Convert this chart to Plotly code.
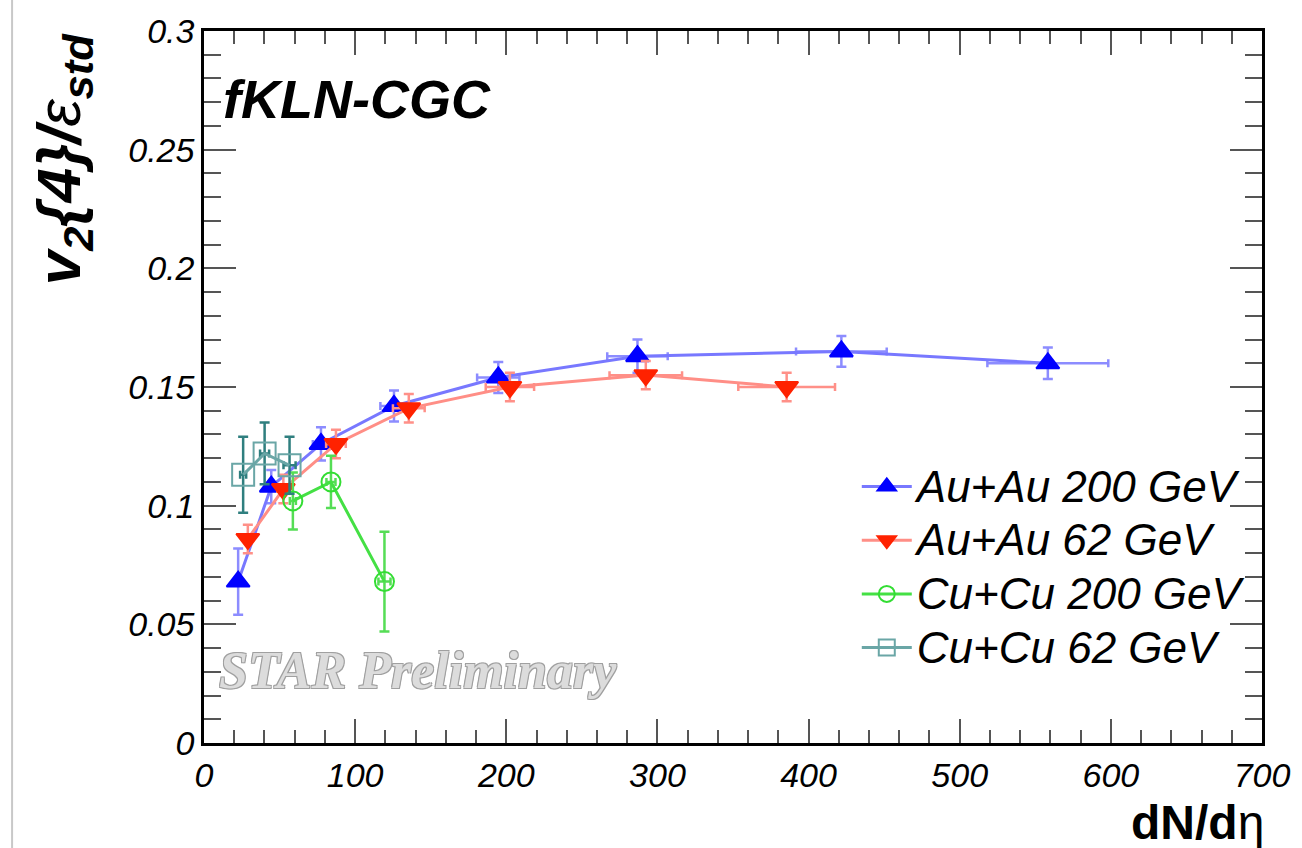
import plotly.graph_objects as go

# dN/deta, v2{4}/eps_std and their uncertainties for each system
au200_x = [22.6, 44.5, 77.4, 125.7, 194.7, 286.8, 421.7, 558.3]
au200_y = [0.068, 0.108, 0.126, 0.142, 0.154, 0.163, 0.165, 0.160]
au200_ex = [1.6, 3.1, 5.4, 9.0, 14.0, 20.0, 30.0, 40.0]
au200_ey = [0.014, 0.007, 0.007, 0.0065, 0.0065, 0.007, 0.0065, 0.0066]

au62_x = [29.0, 52.5, 87.3, 135.5, 202.4, 292.3, 385.5]
au62_y = [0.086, 0.107, 0.126, 0.141, 0.150, 0.155, 0.150]
au62_ex = [2.2, 4.0, 6.5, 10.5, 16.0, 24.0, 32.0]
au62_ey = [0.006, 0.006, 0.006, 0.006, 0.006, 0.006, 0.006]

cu200_x = [58.8, 84.0, 119.4]
cu200_y = [0.102, 0.110, 0.068]
cu200_ex = [2.0, 3.0, 4.0]
cu200_ey = [0.012, 0.011, 0.021]

cu62_x = [25.9, 40.1, 56.6]
cu62_y = [0.113, 0.122, 0.117]
cu62_ex = [2.0, 3.0, 4.0]
cu62_ey = [0.016, 0.013, 0.012]

names = ["Au+Au 200 GeV", "Au+Au 62 GeV", "Cu+Cu 200 GeV", "Cu+Cu 62 GeV"]

FONT = "Liberation Sans, Arial, sans-serif"
LEGEND_TEXT_PX = 44

fig = go.Figure()


def add_series(x, y, ex, ey, name, line_col, err_col, symbol, mcolor, mline, size):
    fig.add_trace(go.Scatter(
        x=x, y=y, mode="lines+markers",
        name=f'<span style="font-size:{LEGEND_TEXT_PX}px">{name}</span>',
        line=dict(color=line_col, width=3),
        marker=dict(symbol=symbol, size=size, color=mcolor,
                    line=dict(color=mline, width=2)),
        error_x=dict(type="data", array=ex, symmetric=True, color=err_col,
                     thickness=2.5, width=4),
        error_y=dict(type="data", array=ey, symmetric=True, color=err_col,
                     thickness=2.5, width=5),
    ))


add_series(au200_x, au200_y, au200_ex, au200_ey, names[0],
           "#7878ff", "#8c8cff", "triangle-up", "#0000ff", "#0000ff", 20)
add_series(au62_x, au62_y, au62_ex, au62_ey, names[1],
           "#ff8e86", "#ff9088", "triangle-down", "#ff2200", "#ff2200", 20)
add_series(cu200_x, cu200_y, cu200_ex, cu200_ey, names[2],
           "#44e044", "#55dd55", "circle-open", "#33dd33", "#33dd33", 19)
add_series(cu62_x, cu62_y, cu62_ex, cu62_ey, names[3],
           "#6aa6a6", "#2f7f7f", "square-open", "#6aa6a6", "#6aa6a6", 22)

axis_common = dict(
    showline=True, linecolor="black", linewidth=2.5, mirror="allticks",
    ticks="inside", tickcolor="#555555", tickwidth=2,
    showgrid=False, zeroline=False,
    tickfont=dict(family=FONT, size=34, color="black", style="italic"),
)

fig.update_xaxes(range=[0, 700], dtick=100, ticklen=24,
                 minor=dict(dtick=20, ticklen=13, ticks="inside",
                            tickcolor="#555555", tickwidth=2),
                 **axis_common)
fig.update_yaxes(range=[0, 0.3], dtick=0.05, ticklen=32,
                 minor=dict(dtick=0.01, ticklen=17, ticks="inside",
                            tickcolor="#555555", tickwidth=2),
                 **axis_common)

annotations = [
    dict(text='v<sub>2</sub>{4}/<span style="font-weight:normal">ε</span>'
              '<sub>std</sub>',
         xref="paper", yref="paper",
         x=-0.133, y=1.0, xanchor="center", yanchor="top", textangle=-90,
         showarrow=False,
         font=dict(family=FONT, size=62, color="black", weight="bold",
                   style="italic")),
    dict(text="<b>dN/d</b>η", xref="paper", yref="paper", x=1.004, y=-0.112,
         xanchor="right", yanchor="middle", showarrow=False,
         font=dict(family=FONT, size=48, color="black")),
    dict(text="fKLN-CGC", xref="paper", yref="paper", x=0.016, y=0.905,
         xanchor="left", yanchor="middle", showarrow=False,
         font=dict(family=FONT, size=54, color="black", weight="bold",
                   style="italic")),
    dict(text="STAR Preliminary", xref="paper", yref="paper", x=0.012,
         y=0.102, xanchor="left", yanchor="middle", showarrow=False,
         font=dict(family="Liberation Serif, Times New Roman, serif", size=52,
                   color="#dcdcdc", style="italic", weight="bold",
                   shadow="-1px -1px 0 #a0a0a0, 1px -1px 0 #a0a0a0, "
                          "-1px 1px 0 #a0a0a0, 1px 1px 0 #a0a0a0")),
]

fig.update_layout(
    width=1302, height=848,
    margin=dict(l=204, r=34, t=23, b=105),
    paper_bgcolor="white", plot_bgcolor="white",
    annotations=annotations,
    showlegend=True,
    legend=dict(x=0.617, y=0.405, xanchor="left", yanchor="top",
                bgcolor="rgba(0,0,0,0)", borderwidth=0,
                itemwidth=50, tracegroupgap=0,
                font=dict(family=FONT, size=39, color="black",
                          style="italic")),
    shapes=[dict(type="line", xref="paper", yref="paper",
                 x0=-0.1814, x1=-0.1814, y0=-0.2, y1=1.1,
                 line=dict(color="#c8c8c8", width=2))],
)

fig.write_html("out.html")
